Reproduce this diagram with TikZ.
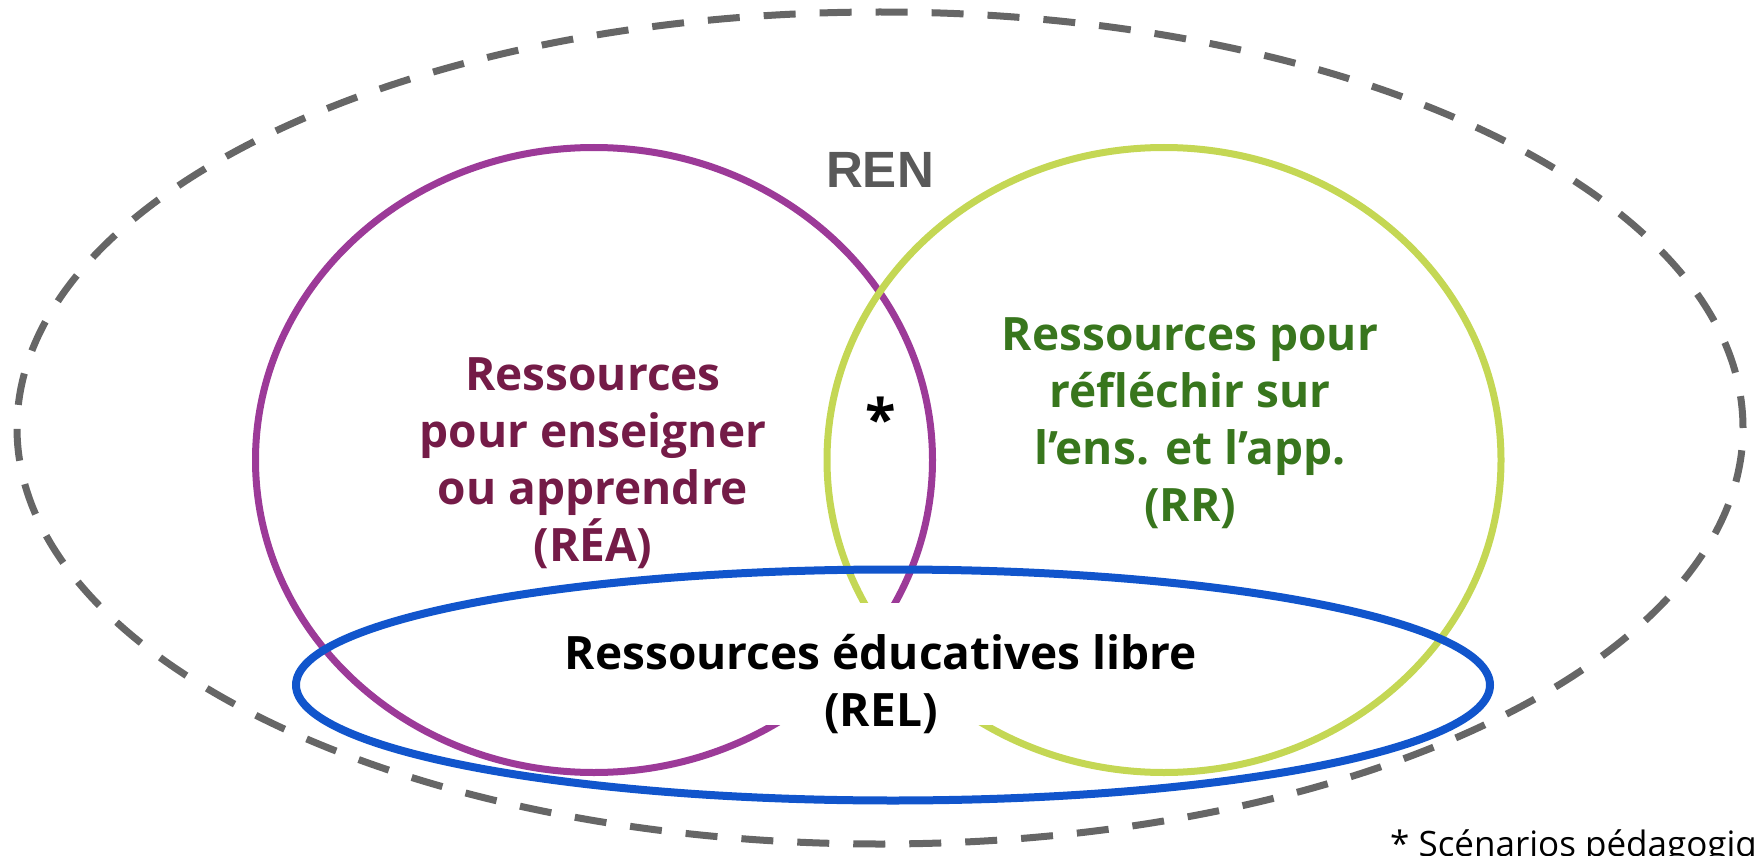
\documentclass[tikz,border=0pt]{standalone}
\usepackage{fontspec}
\setmainfont{Open Sans}
\newfontfamily\renfont{Liberation Sans}
\usetikzlibrary{shapes.geometric}
\definecolor{dashgray}{HTML}{666666}
\definecolor{ringpurple}{HTML}{9C3A98}
\definecolor{ringgreen}{HTML}{C4D754}
\definecolor{ringblue}{HTML}{1155CC}
\definecolor{reatext}{HTML}{741B47}
\definecolor{rrtext}{HTML}{38761D}
\definecolor{rengray}{HTML}{595959}
\begin{document}
\begin{tikzpicture}[x=1pt,y=-1pt,
  ring/.style={ellipse, draw, inner sep=0pt, outer sep=0pt},
  lbl/.style={align=center, font=\fontsize{46}{57}\selectfont\bfseries, inner sep=0pt}]
\useasboundingbox (0,0) rectangle (1757,856);
\begin{scope}
\clip (0,0) rectangle (1757,856);
\node[ring, draw=dashgray, line width=7pt, dash pattern=on 32pt off 24pt, minimum width=1726pt, minimum height=832pt] (ren) at (880,428) {};
\node[ring, draw=ringpurple, line width=7pt, minimum width=677pt, minimum height=625pt] (rea) at (594,460) {};
\node[ring, draw=ringgreen, line width=7pt, minimum width=674pt, minimum height=625pt] (rr) at (1164,460) {};
\node[fill=white, minimum width=640pt, minimum height=122pt, inner sep=0pt] (mask) at (880,664) {};
\node[ring, draw=ringblue, line width=8pt, minimum width=1194pt, minimum height=231pt] (rel) at (893,685) {};
\node[anchor=base, inner sep=0pt, text=rengray, font=\renfont\fontsize{51}{60}\selectfont\bfseries] (rentxt) at (880,187) {REN};
\node[lbl, text=reatext] (reatxt) at (593,463) {Ressources\\pour enseigner\\ou apprendre\\(RÉA)};
\node[lbl, text=rrtext] (rrtxt) at (1190,423) {Ressources pour\\réfléchir sur\\l’ens. et l’app.\\(RR)};
\node[lbl, text=black] (reltxt) at (881,684) {Ressources éducatives libre\\(REL)};
\node[inner sep=0pt, font=\fontsize{56}{60}\selectfont\bfseries] (star) at (881,418) {*};
\node[anchor=base west, inner sep=0pt, font=\fontsize{35}{43}\selectfont] (note) at (1390,856) {* Scénarios pédagogiques};
\end{scope}
\end{tikzpicture}
\end{document}
